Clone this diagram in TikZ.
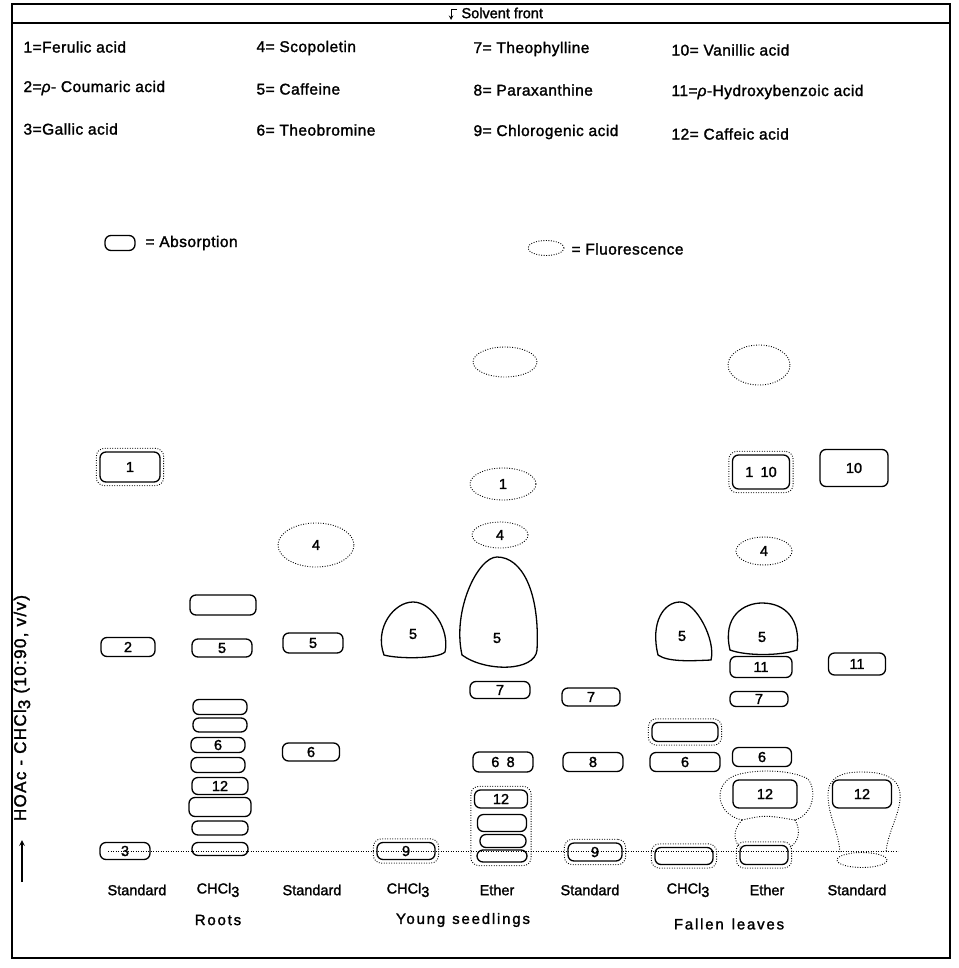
\documentclass[tikz,border=0pt]{standalone}
\usepackage{fontspec}
\setmainfont{Liberation Sans}[FakeBold=1.6]
\usetikzlibrary{shapes.geometric, arrows, positioning, fit}

\newcommand{\chcl}{CHCl\raisebox{-0.45ex}{3}}

\begin{document}
\begin{tikzpicture}[
  x = 1pt, y = -1pt,
  every node/.style = {font=\fontsize{14.5}{16}\selectfont},
  keyfont/.style = {font=\fontsize{15.5}{17}\selectfont\addfontfeatures{LetterSpace=3}},
  groupfont/.style = {font=\fontsize{15}{17}\selectfont\addfontfeatures{LetterSpace=12}},
  absorb/.style = {draw, rounded corners=6pt, line width=1.3pt, inner sep=0pt},
  fluor/.style = {draw, ellipse, line width=0.9pt, dash pattern=on 0.9pt off 1.6pt, inner sep=0pt},
  fluorline/.style = {draw, line width=0.9pt, dash pattern=on 0.9pt off 1.6pt},
  halo/.style = {draw, rounded corners=8pt, line width=0.9pt, dash pattern=on 0.9pt off 1.6pt, inner sep=3pt},
  spotline/.style = {draw, line width=1.3pt},
  legend/.style = {keyfont, anchor=west},
  frame/.style = {draw, line width=1.8pt}
  ]
 \useasboundingbox (0,0) rectangle (958,968);
 % Frame and solvent front
 \draw[frame] (12,4) rectangle (950,958);
 \draw[line width=1.3pt] (12,23) -- (950,23);
 \node[anchor=west] (front) at (458,13) {Solvent front};
 \draw[-stealth, line width=1pt] (front.west) ++(-1,-3) -- ++(-6,0) -- ++(0,10);
 % Key to the spots
 \node[legend] (key1) at (20,47) {1=Ferulic acid};
 \node[legend] (key2) at (20,88) {2=\textit{ρ}- Coumaric acid};
 \node[legend] (key3) at (20,129) {3=Gallic acid};
 \node[legend] (key4) at (253,48) {4= Scopoletin};
 \node[legend] (key5) at (253,89) {5= Caffeine};
 \node[legend] (key6) at (253,130) {6= Theobromine};
 \node[legend] (key7) at (470,49) {7= Theophylline};
 \node[legend] (key8) at (470,90) {8= Paraxanthine};
 \node[legend] (key9) at (470,132) {9= Chlorogenic acid};
 \node[legend] (key10) at (668,50) {10= Vanillic acid};
 \node[legend] (key11) at (668,92) {11=\textit{ρ}-Hydroxybenzoic acid};
 \node[legend] (key12) at (668,134) {12= Caffeic acid};
 \node[absorb, minimum width=30pt, minimum height=15pt] (keyabs) at (120,243) {};
 \node[legend] (keyabstxt) at (142,243) {= Absorption};
 \node[fluor, minimum width=36pt, minimum height=15pt] (keyfl) at (546,248) {};
 \node[legend] (keyfltxt) at (568,249) {= Fluorescence};
 % Solvent axis
 \node[rotate=90, font=\fontsize{17}{19}\selectfont\addfontfeatures{LetterSpace=8}] (solvent) at (22,708) {HOAc - \chcl{} (10:90, v/v)};
 \coordinate (axtail) at (22,882);
 \coordinate (axhead) at (22,840);
 \draw[-stealth, line width=1.6pt] (axtail) -- (axhead);
 % Origin
 \coordinate (origl) at (108,851);
 \coordinate (origr) at (898,851);
 \draw[fluorline, line width=0.7pt] (origl) -- (origr);
 % Roots: standard
 \node[absorb, minimum width=60pt, minimum height=30pt] (sa1) at (130,467) {1};
 \node[halo, fit=(sa1)] {};
 \node[absorb, minimum width=54pt, minimum height=19pt] (sa2) at (128,647) {2};
 \node[absorb, minimum width=50pt, minimum height=17pt] (sa3) at (125,851) {3};
 % Roots: CHCl3
 \node[absorb, minimum width=66pt, minimum height=20pt] (rc1) at (223,605) {};
 \node[absorb, minimum width=60pt, minimum height=18pt] (rc2) at (222,648) {5};
 \node[absorb, minimum width=54pt, minimum height=15pt] (rc3) at (220,707) {};
 \node[absorb, minimum width=54pt, minimum height=14pt] (rc4) at (220,725) {};
 \node[absorb, minimum width=54pt, minimum height=15pt] (rc5) at (218,745) {6};
 \node[absorb, minimum width=54pt, minimum height=15pt] (rc6) at (218,765) {};
 \node[absorb, minimum width=56pt, minimum height=17pt] (rc7) at (220,786) {12};
 \node[absorb, minimum width=62pt, minimum height=19pt] (rc8) at (220,807) {};
 \node[absorb, minimum width=56pt, minimum height=14pt] (rc9) at (220,828) {};
 \node[absorb, minimum width=56pt, minimum height=13pt] (rc10) at (220,849) {};
 % Roots: standard
 \node[fluor, minimum width=76pt, minimum height=44pt] (sb4) at (316,545) {4};
 \node[absorb, minimum width=60pt, minimum height=20pt] (sb5) at (313,643) {5};
 \node[absorb, minimum width=57pt, minimum height=18pt] (sb6) at (311,752) {6};
 % Young seedlings: CHCl3
 \draw[spotline] (384,655) .. controls (374,628) and (394,602) .. (413,602)
   .. controls (432,602) and (450,630) .. (445,652) .. controls (438,659) and (398,659) .. cycle;
 \node (yc5) at (413,634) {5};
 \node[absorb, minimum width=58pt, minimum height=17pt] (yc9) at (406,851) {9};
 \node[halo, fit=(yc9)] {};
 % Young seedlings: ether
 \node[fluor, minimum width=64pt, minimum height=30pt] (yetop) at (505,362) {};
 \node[fluor, minimum width=66pt, minimum height=32pt] (ye1) at (503,484) {1};
 \node[fluor, minimum width=56pt, minimum height=26pt] (ye4) at (500,535) {4};
 \draw[spotline] (462,655) .. controls (452,610) and (478,557) .. (497,557)
   .. controls (522,557) and (540,592) .. (537,650) .. controls (535,672) and (485,672) .. cycle;
 \node (ye5) at (497,638) {5};
 \node[absorb, minimum width=60pt, minimum height=17pt] (ye7) at (500,690) {7};
 \node[absorb, minimum width=60pt, minimum height=20pt] (ye68) at (503,762) {6\enspace 8};
 \node[absorb, minimum width=53pt, minimum height=18pt] (ye12) at (501,799) {12};
 \node[absorb, minimum width=49pt, minimum height=17pt] (yeb1) at (502,823) {};
 \node[absorb, minimum width=46pt, minimum height=13pt] (yeb2) at (503,841) {};
 \node[absorb, minimum width=50pt, minimum height=12pt] (yeb3) at (502,856) {};
 \node[halo, fit=(ye12)(yeb3)] {};
 % Young seedlings: standard
 \node[absorb, minimum width=58pt, minimum height=18pt] (sc7) at (591,697) {7};
 \node[absorb, minimum width=60pt, minimum height=19pt] (sc8) at (593,762) {8};
 \node[absorb, minimum width=54pt, minimum height=18pt] (sc9) at (595,852) {9};
 \node[halo, fit=(sc9)] {};
 % Fallen leaves: CHCl3
 \draw[spotline] (658,655) .. controls (650,622) and (664,602) .. (680,602)
   .. controls (696,602) and (716,640) .. (711,660) .. controls (690,661) and (668,662) .. cycle;
 \node (fc5) at (682,636) {5};
 \node[absorb, minimum width=66pt, minimum height=19pt] (fcb1) at (685,732) {};
 \node[halo, fit=(fcb1)] {};
 \node[absorb, minimum width=70pt, minimum height=19pt] (fc6) at (685,762) {6};
 \node[absorb, minimum width=58pt, minimum height=17pt] (fcb2) at (684,856) {};
 \node[halo, fit=(fcb2)] {};
 % Fallen leaves: ether
 \node[fluor, minimum width=62pt, minimum height=40pt] (fetop) at (759,365) {};
 \node[absorb, minimum width=57pt, minimum height=34pt] (fe110) at (761,472) {1\enspace 10};
 \node[halo, fit=(fe110)] {};
 \node[fluor, minimum width=56pt, minimum height=28pt] (fe4) at (764,551) {4};
 \draw[spotline] (730,650) .. controls (722,616) and (744,603) .. (762,603)
   .. controls (786,603) and (801,620) .. (797,650) .. controls (780,656) and (746,656) .. cycle;
 \node (fe5) at (762,637) {5};
 \node[absorb, minimum width=62pt, minimum height=21pt] (fe11) at (761,667) {11};
 \node[absorb, minimum width=58pt, minimum height=15pt] (fe7) at (759,699) {7};
 \node[absorb, minimum width=59pt, minimum height=19pt] (fe6) at (762,757) {6};
 \node[absorb, minimum width=64pt, minimum height=28pt] (fe12) at (765,794) {12};
 \draw[fluorline] (742,820) .. controls (714,814) and (712,780) .. (740,774)
   .. controls (760,769) and (792,770) .. (808,779) .. controls (818,792) and (812,815) .. (795,820);
 \draw[fluorline] (742,820) .. controls (765,815) .. (795,820);
 \draw[fluorline] (742,820) .. controls (732,830) and (734,842) .. (740,847);
 \draw[fluorline] (795,820) .. controls (801,830) and (799,842) .. (790,847);
 \node[absorb, minimum width=48pt, minimum height=19pt] (feb) at (764,855) {};
 \node[halo, fit=(feb)] {};
 % Fallen leaves: standard
 \node[absorb, minimum width=68pt, minimum height=37pt] (sd10) at (854,468) {10};
 \node[absorb, minimum width=57pt, minimum height=22pt] (sd11) at (857,664) {11};
 \node[absorb, minimum width=59pt, minimum height=28pt] (sd12) at (862,794) {12};
 \draw[fluorline] (840,852) .. controls (838,830) and (828,815) .. (828,795)
   .. controls (828,775) and (845,772) .. (862,772) .. controls (885,772) and (902,778) .. (900,800)
   .. controls (898,818) and (888,832) .. (886,852);
 \node[fluor, minimum width=50pt, minimum height=15pt] (sdb) at (862,860) {};
 % Lane and sample labels
 \node (lab1) at (137,890) {Standard};
 \node (lab2) at (218,890) {\chcl};
 \node (lab3) at (312,890) {Standard};
 \node (lab4) at (408,890) {\chcl};
 \node (lab5) at (497,890) {Ether};
 \node (lab6) at (590,890) {Standard};
 \node (lab7) at (688,890) {\chcl};
 \node (lab8) at (767,890) {Ether};
 \node (lab9) at (857,890) {Standard};
 \node[groupfont] (roots) at (218,920) {Roots};
 \node[groupfont] (young) at (463,920) {Young\hspace{7pt}seedlings};
 \node[groupfont] (fallen) at (729,924) {Fallen\hspace{8pt}leaves};
\end{tikzpicture}
\end{document}
